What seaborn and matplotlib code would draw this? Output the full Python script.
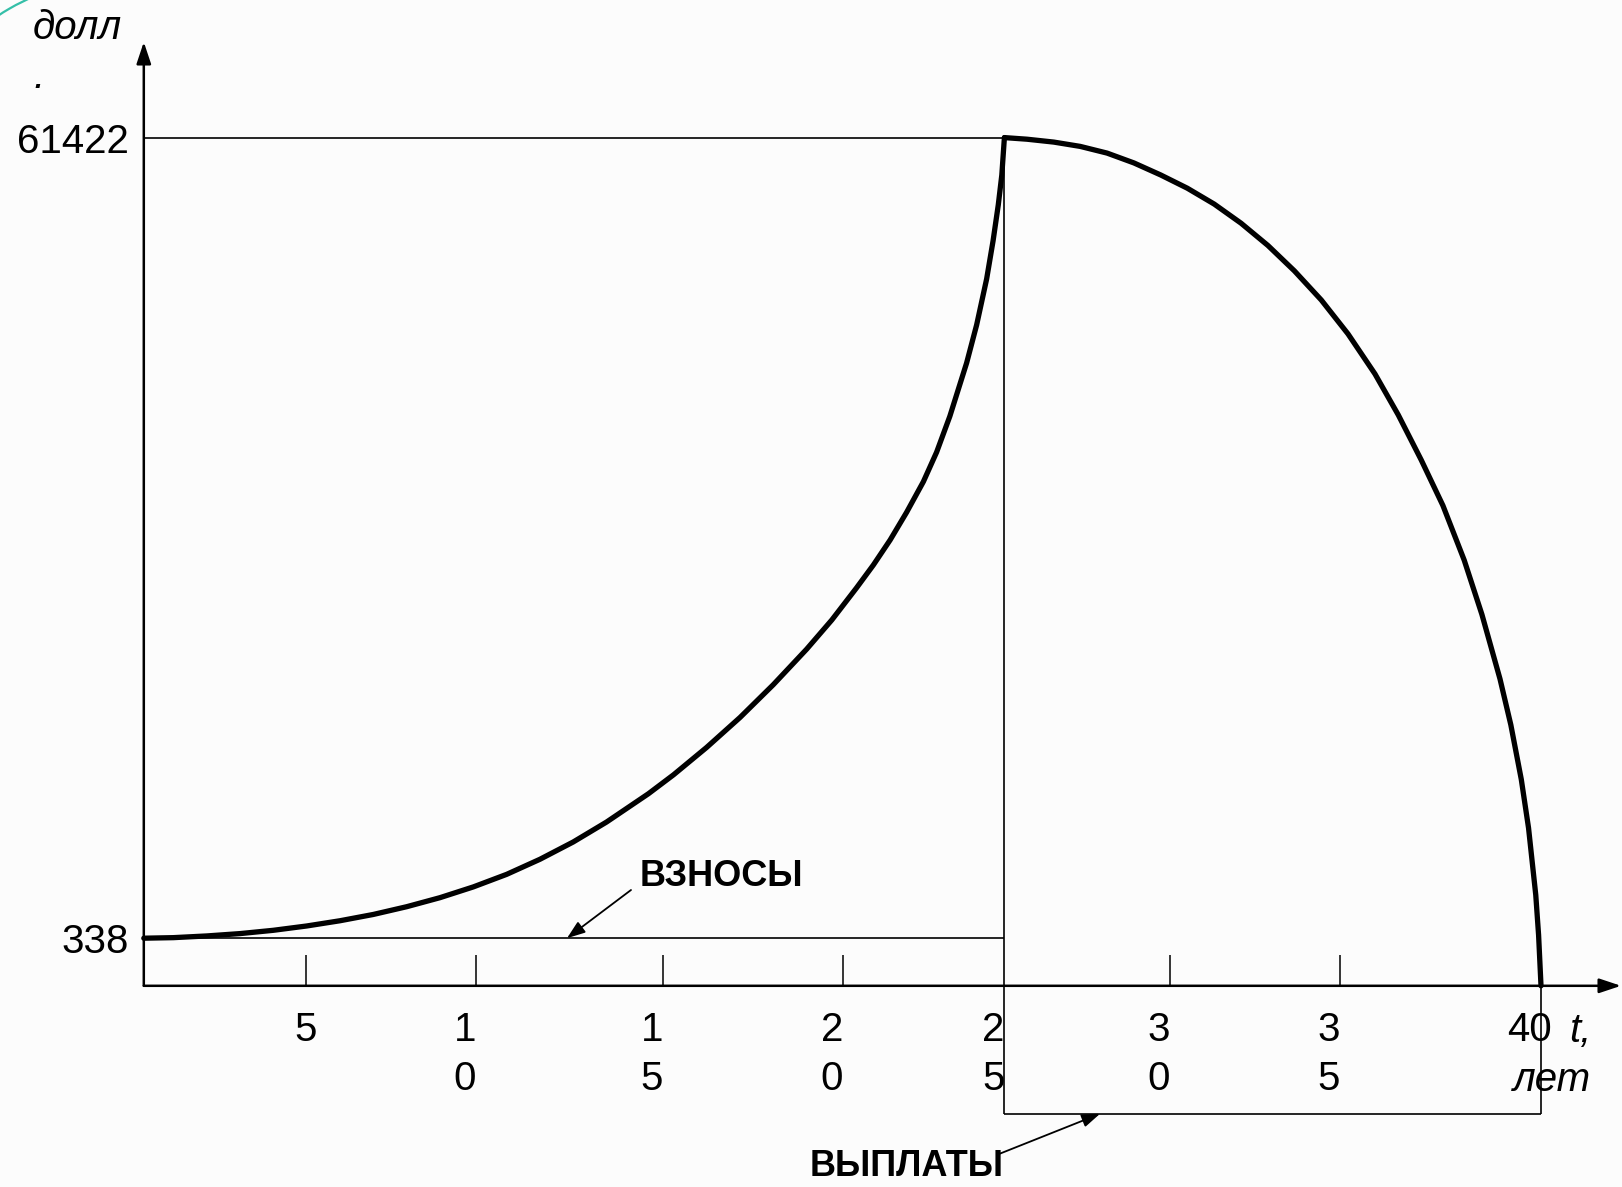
"""Pension scheme diagram: contributions accumulate, then are paid out."""

import matplotlib

matplotlib.use("Agg")

import matplotlib.pyplot as plt
import matplotlib.transforms as mtransforms
import numpy as np
import seaborn as sns
from matplotlib.patches import Arc

# --- data ----------------------------------------------------------------
ACCUM_YEARS = [0, 0.91, 1.94, 2.97, 3.99, 5.02, 6.00, 6.98, 7.96, 8.94,
               9.92, 10.82, 11.71, 12.60, 13.49, 14.61, 15.29, 16.21, 17.14,
               18.06, 18.99, 19.69, 20.42, 20.94, 21.46, 21.97, 22.49, 22.90,
               23.31, 23.83, 24.14, 24.45, 24.65, 24.81, 24.92, 25]
ACCUM_VALUES = [338, 380, 510, 690, 940, 1270, 1670, 2150, 2740, 3430,
                4250, 5210, 6360, 7680, 9200, 11360, 12800, 14890, 17180,
                19670, 22390, 24620, 27070, 28810, 30720, 32830, 35170, 37420,
                40160, 44230, 47130, 50640, 53560, 56280, 58570, 61422]

PAYOUT_YEARS = [25, 25.68, 26.49, 27.29, 28.10, 28.91, 29.72, 30.51, 31.30,
                32.09, 32.88, 33.66, 34.45, 35.20, 35.87, 36.45, 37.02, 37.56,
                38.09, 38.53, 38.98, 39.25, 39.51, 39.69, 39.87, 39.94, 40]
PAYOUT_VALUES = [61422, 61300, 61080, 60750, 60240, 59490, 58570, 57560,
                 56350, 54890, 53190, 51250, 49030, 46440, 43390, 40260,
                 36830, 33350, 29180, 25040, 20120, 16610, 12450, 8750, 3630,
                 580, 0]

X_TICKS = [5, 10, 15, 20, 25, 30, 35, 40]
X_TICK_LABELS = ["5", "1\n0", "1\n5", "2\n0", "2\n5", "3\n0", "3\n5", "40"]
TICK_MARKS = [5, 10, 15, 20, 30, 35]

Y_TICKS = [338, 61422]
Y_TICK_LABELS = ["338", "61422"]

CONTRIBUTION = 338
PEAK = 61422
RETIRE_YEAR = 25
END_YEAR = 40

# --- layout (pixels of the 1622x1187 picture) ----------------------------
W, H, DPI = 1622, 1187, 100
X0 = 143.8        # column of the y axis
Y0 = 985.8        # row of the x axis
BOX_DEPTH = 128   # depth of the payout box below the x axis
LABEL_NUDGE = [0, -11, -11, -11, -11, -11, -11, -11]   # px, tick labels


def piecewise(v, xs, ys):
    """Piecewise-linear map with linear extrapolation at both ends."""
    v = np.asarray(v, dtype=float)
    out = np.interp(v, xs, ys)
    lo = (ys[1] - ys[0]) / (xs[1] - xs[0])
    hi = (ys[-1] - ys[-2]) / (xs[-1] - xs[-2])
    out = np.where(v < xs[0], ys[0] + (v - xs[0]) * lo, out)
    out = np.where(v > xs[-1], ys[-1] + (v - xs[-1]) * hi, out)
    return out


# the drawing is schematic (hand-placed ticks): axes are linear piece by piece
X_KNOTS = [0, 5, 10, 15, 20, 25, 30, 35, 40]
X_PIX = [0, 162.2, 332.2, 519.2, 699.2, 860.6, 1026.2, 1196.2, 1397.2]
Y_KNOTS, Y_PIX = [0, 338, 61422], [0, 47.6, 848.2]


def fx(v):
    return piecewise(v, X_KNOTS, X_PIX)


def fx_inv(p):
    return piecewise(p, X_PIX, X_KNOTS)


def fy(v):
    return piecewise(v, Y_KNOTS, Y_PIX)


def fy_inv(p):
    return piecewise(p, Y_PIX, Y_KNOTS)


def at(px, py):
    """Picture pixel (from top-left) -> data coordinates."""
    return float(fx_inv(px - X0)), float(fy_inv(Y0 - py))


sns.set_theme(style="white")
plt.rcParams["font.family"] = ["Liberation Sans", "DejaVu Sans"]
for key in ["text.color", "axes.labelcolor", "xtick.color", "ytick.color"]:
    plt.rcParams[key] = "black"

fig = plt.figure(figsize=(W / DPI, H / DPI), dpi=DPI, facecolor="#fcfcfc")
ax = fig.add_axes([0, 0, 1, 1])
ax.set_facecolor("#fcfcfc")
ax.set_xscale("function", functions=(fx, fx_inv))
ax.set_yscale("function", functions=(fy, fy_inv))
ax.set_xlim(float(fx_inv(-X0)), float(fx_inv(W - X0)))
ax.set_ylim(float(fy_inv(Y0 - H)), float(fy_inv(Y0)))

# slide decoration peeking in at the top-left corner
fig.add_artist(Arc((120, H - 200), 442, 442, theta1=105, theta2=135,
                   transform=None, color="#35bfa8", lw=1.6))

# curves
sns.lineplot(x=ACCUM_YEARS, y=ACCUM_VALUES, ax=ax, color="black", lw=3.8)
sns.lineplot(x=PAYOUT_YEARS, y=PAYOUT_VALUES, ax=ax, color="black", lw=3.8)

# guide lines and payout box
box_bottom = float(fy_inv(-BOX_DEPTH))
thin = dict(color="black", lw=1.2)
ax.hlines(PEAK, 0, RETIRE_YEAR, **thin)
ax.hlines(CONTRIBUTION, 0, RETIRE_YEAR, **thin)
ax.vlines(RETIRE_YEAR, box_bottom, PEAK, **thin)
ax.vlines(END_YEAR, box_bottom, 0, **thin)
ax.hlines(box_bottom, RETIRE_YEAR, END_YEAR, **thin)

# axes with arrow heads
axis_arrow = dict(arrowstyle="-|>,head_length=0.6,head_width=0.2",
                  mutation_scale=22, color="black", lw=1.8,
                  shrinkA=0, shrinkB=0)
ax.annotate("", xy=at(1621, Y0), xytext=(0, 0), arrowprops=axis_arrow)
ax.annotate("", xy=at(X0, 42), xytext=(0, 0), arrowprops=axis_arrow)

for side in ["top", "right", "left", "bottom"]:
    ax.spines[side].set_visible(False)
ax.spines["bottom"].set_position(("data", 0))
ax.spines["left"].set_position(("data", 0))

# tick marks point up from the x axis
ax.set_xticks(TICK_MARKS, minor=True)
ax.set_xticks([])
ax.tick_params(axis="x", which="minor", direction="in", length=22.5,
               width=1.1, color="black", bottom=True)

ax.set_yticks(Y_TICKS, Y_TICK_LABELS)
ax.tick_params(axis="y", length=0, pad=11, labelsize=29, labelcolor="black")

for t, lab, nudge in zip(X_TICKS, X_TICK_LABELS, LABEL_NUDGE):
    shift = mtransforms.ScaledTranslation(nudge / DPI, -25 / DPI,
                                          fig.dpi_scale_trans)
    ax.text(t, 0, lab, transform=ax.transData + shift, ha="center",
            va="top", fontsize=29, linespacing=1.38, color="black")

# multi-line texts: "baseline" is that of the last line
fig.text(1591 / W, 1 - 1091 / H, "t,\nлет", ha="right", va="baseline",
         ma="right", fontsize=29, style="italic", linespacing=1.38)
fig.text(33 / W, 1 - 88 / H, "долл\n.", ha="left", va="baseline",
         fontsize=29, style="italic", linespacing=1.38)

# labels with pointers
note_arrow = dict(arrowstyle="-|>,head_length=0.55,head_width=0.2",
                  mutation_scale=20, color="black", lw=1.3,
                  shrinkA=0, shrinkB=0)
ax.annotate("", xy=(at(567, 0)[0], CONTRIBUTION), xytext=at(631, 890),
            arrowprops=note_arrow)
ax.text(*at(721, 877), "ВЗНОСЫ", ha="center", va="center", fontsize=26,
        fontweight="bold")
ax.annotate("", xy=(at(1100, 0)[0], box_bottom), xytext=at(999, 1154),
            arrowprops=note_arrow)
ax.text(*at(907, 1167), "ВЫПЛАТЫ", ha="center", va="center", fontsize=26,
        fontweight="bold")

fig.savefig("out.png", dpi=DPI, facecolor=fig.get_facecolor())
